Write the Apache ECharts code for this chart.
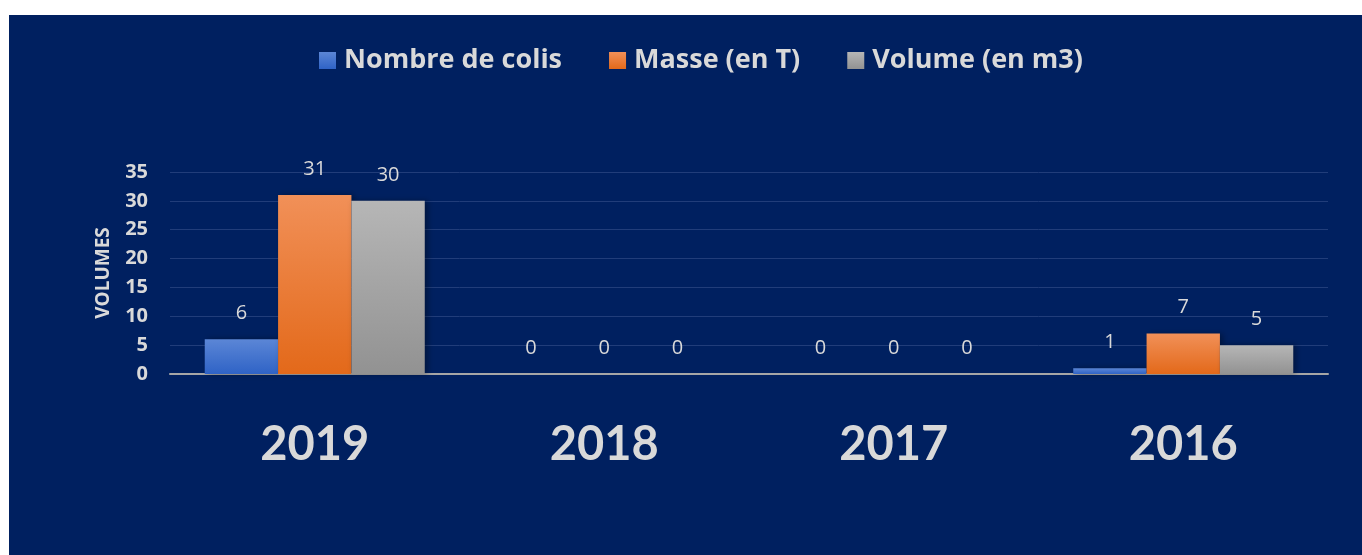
<!DOCTYPE html>
<html>
<head>
<meta charset="utf-8">
<script src="https://cdn.jsdelivr.net/npm/echarts@6/dist/echarts.min.js"></script>
<style>
  html, body { margin: 0; padding: 0; background: #fff; }
  #main { position: absolute; left: 9px; top: 15px; width: 1353px; height: 540px; }
</style>
</head>
<body>
<div id="main"></div>
<script>
// donnees
var years = ['2019', '2018', '2017', '2016'];
var colis = [6, 0, 0, 1];
var masse = [31, 0, 0, 7];
var volume = [30, 0, 0, 5];
var seriesNames = ['Nombre de colis', 'Masse (en T)', 'Volume (en m3)'];

var chart = echarts.init(document.getElementById('main'));

function grad(top, bottom) {
  return new echarts.graphic.LinearGradient(0, 0, 0, 1, [
    { offset: 0, color: top },
    { offset: 1, color: bottom }
  ]);
}

var labelStyle = {
  show: true,
  position: 'top',
  distance: 16,
  color: '#d9d9d9',
  fontSize: 20,
  fontFamily: 'Open Sans'
};

function bar(name, data, top, bottom) {
  return {
    name: name,
    type: 'bar',
    data: data,
    barGap: '0%',
    barCategoryGap: '24%',
    itemStyle: {
      color: grad(top, bottom),
      shadowColor: 'rgba(0,0,0,0.35)',
      shadowBlur: 6,
      shadowOffsetX: 3
    },
    label: labelStyle
  };
}

chart.setOption({
  backgroundColor: '#002060',
  textStyle: { fontFamily: 'Open Sans' },
  legend: {
    data: seriesNames,
    top: 27,
    left: 305,
    itemWidth: 17,
    itemHeight: 17,
    itemGap: 47,
    icon: 'rect',
    textStyle: { color: '#d9d9d9', fontSize: 27, fontWeight: 'bold', fontFamily: 'Open Sans', padding: [0, 0, 0, 3] }
  },
  grid: { left: 161, right: 34, top: 157, bottom: 181 },
  xAxis: {
    type: 'category',
    data: years,
    axisTick: { show: false },
    axisLine: { lineStyle: { color: '#a6a6a6', width: 2 } },
    axisLabel: { color: '#d9d9d9', fontSize: 47, fontWeight: 'bold', margin: 47, fontFamily: 'Lato' }
  },
  yAxis: {
    type: 'value',
    min: 0,
    max: 35,
    interval: 5,
    name: 'VOLUMES',
    nameLocation: 'middle',
    nameGap: 57,
    nameRotate: 90,
    nameTextStyle: { color: '#d9d9d9', fontSize: 19, fontWeight: 'bold', fontFamily: 'Open Sans' },
    axisLine: { show: false },
    axisTick: { show: false },
    axisLabel: { color: '#d9d9d9', fontSize: 20, fontWeight: 'bold', margin: 22, fontFamily: 'Open Sans' },
    splitLine: { lineStyle: { color: '#213d7a', width: 1 } }
  },
  series: [
    bar(seriesNames[0], colis, '#5b86d6', '#2f63c6'),
    bar(seriesNames[1], masse, '#f19058', '#e3691a'),
    bar(seriesNames[2], volume, '#b6b6b6', '#929292')
  ]
});
</script>
</body>
</html>
